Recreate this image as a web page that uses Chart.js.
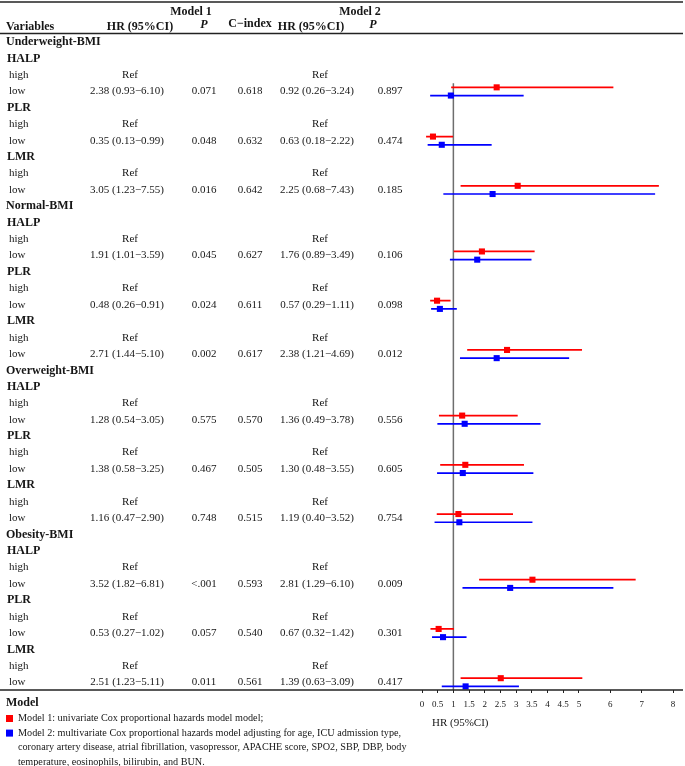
<!DOCTYPE html>
<html>
<head>
<meta charset="utf-8">
<script src="https://cdn.jsdelivr.net/npm/chart.js@4"></script>
<style>
  html, body { margin: 0; padding: 0; background: #fff; }
  .chart-container { position: relative; width: 685px; height: 766px; }
</style>
</head>
<body>
<div class="chart-container"><canvas id="forest"></canvas></div>
<script>
// ===== DATA =====
const groups = ['Underweight-BMI', 'Normal-BMI', 'Overweight-BMI', 'Obesity-BMI'];
const markers = ['HALP', 'PLR', 'LMR'];
const levels = ['high', 'low'];

// one entry per group x marker (low vs high)
const hr1 = [2.38, 0.35, 3.05, 1.91, 0.48, 2.71, 1.28, 1.38, 1.16, 3.52, 0.53, 2.51];
const lo1 = [0.93, 0.13, 1.23, 1.01, 0.26, 1.44, 0.54, 0.58, 0.47, 1.82, 0.27, 1.23];
const hi1 = [6.10, 0.99, 7.55, 3.59, 0.91, 5.10, 3.05, 3.25, 2.90, 6.81, 1.02, 5.11];
const p1 = ['0.071', '0.048', '0.016', '0.045', '0.024', '0.002', '0.575', '0.467', '0.748', '<.001', '0.057', '0.011'];
const cIndex = ['0.618', '0.632', '0.642', '0.627', '0.611', '0.617', '0.570', '0.505', '0.515', '0.593', '0.540', '0.561'];
const hr2 = [0.92, 0.63, 2.25, 1.76, 0.57, 2.38, 1.36, 1.30, 1.19, 2.81, 0.67, 1.39];
const lo2 = [0.26, 0.18, 0.68, 0.89, 0.29, 1.21, 0.49, 0.48, 0.40, 1.29, 0.32, 0.63];
const hi2 = [3.24, 2.22, 7.43, 3.49, 1.11, 4.69, 3.78, 3.55, 3.52, 6.10, 1.42, 3.09];
const p2 = ['0.897', '0.474', '0.185', '0.106', '0.098', '0.012', '0.556', '0.605', '0.754', '0.009', '0.301', '0.417'];

const xTicks = [0, 0.5, 1, 1.5, 2, 2.5, 3, 3.5, 4, 4.5, 5, 6, 7, 8];

const legendLines = [
  ['Model 1: univariate Cox proportional hazards model model;'],
  ['Model 2: multivariate Cox proportional hazards model adjusting for age, ICU admission type,',
   'coronary artery disease, atrial fibrillation, vasopressor, APACHE score, SPO2, SBP, DBP, body',
   'temperature, eosinophils, bilirubin, and BUN.']
];

// ===== STYLE =====
const redColor = '#ff0000';
const blueColor = '#0000ff';
const refColor = '#6e6e6e';
const inkColor = '#161616';
const serif = "'Liberation Serif', 'Times New Roman', serif";

// row index on the y scale (0 = first group title)
const groupRow = g => g * 10;
const markerRow = (g, m) => g * 10 + 1 + m * 3;
const lowRow = i => markerRow(Math.floor(i / 3), i % 3) + 2;

// lo, estimate, hi, gap for every comparison
function ciPoints(hr, lo, hi, shift) {
  const pts = [];
  hr.forEach((v, i) => {
    const y = lowRow(i) + shift;
    pts.push({ x: lo[i], y }, { x: v, y }, { x: hi[i], y }, { x: null, y: null });
  });
  return pts;
}

const fmtCI = (hr, lo, hi, i) =>
  hr[i].toFixed(2) + ' (' + lo[i].toFixed(2) + '\u2212' + hi[i].toFixed(2) + ')';

// ===== TABLE + LEGEND PLUGIN =====
const tablePlugin = {
  id: 'table',
  afterDraw(chart) {
    const ctx = chart.ctx;
    const ys = chart.scales.y;
    const W = chart.width;
    ctx.save();

    // horizontal rules
    ctx.strokeStyle = '#222';
    ctx.lineWidth = 1.5;
    [2, 33.5, 690].forEach(yy => {
      ctx.beginPath();
      ctx.moveTo(0, yy);
      ctx.lineTo(W - 2, yy);
      ctx.stroke();
    });

    ctx.fillStyle = inkColor;
    ctx.textBaseline = 'middle';
    const text = (s, x, y, align, font) => {
      ctx.font = font;
      ctx.textAlign = align;
      ctx.fillText(s, x, y);
    };
    const bold = 'bold 12px ' + serif;
    const body = '11px ' + serif;

    // header
    text('Model 1', 191, 12, 'center', bold);
    text('Model 2', 360, 12, 'center', bold);
    text('Variables', 6, 27, 'left', bold);
    text('HR (95%CI)', 140, 27, 'center', bold);
    text('P', 204, 25, 'center', 'italic bold 12px ' + serif);
    text('C\u2212index', 250, 24, 'center', bold);
    text('HR (95%CI)', 311, 27, 'center', bold);
    text('P', 373, 25, 'center', 'italic bold 12px ' + serif);

    // body
    groups.forEach((g, gi) => {
      text(g, 6, ys.getPixelForValue(groupRow(gi)), 'left', bold);
      markers.forEach((m, mi) => {
        const i = gi * 3 + mi;
        const r = markerRow(gi, mi);
        text(m, 7, ys.getPixelForValue(r), 'left', bold);
        const yh = ys.getPixelForValue(r + 1);
        const yl = ys.getPixelForValue(r + 2);
        text(levels[0], 9, yh, 'left', body);
        text(levels[1], 9, yl, 'left', body);
        text('Ref', 130, yh, 'center', body);
        text('Ref', 320, yh, 'center', body);
        text(fmtCI(hr1, lo1, hi1, i), 127, yl, 'center', body);
        text(p1[i], 204, yl, 'center', body);
        text(cIndex[i], 250, yl, 'center', body);
        text(fmtCI(hr2, lo2, hi2, i), 317, yl, 'center', body);
        text(p2[i], 390, yl, 'center', body);
      });
    });

    // axis title
    text('HR (95%CI)', 432, 723, 'left', body);

    // legend
    text('Model', 6, 703, 'left', bold);
    const small = '10.2px ' + serif;
    const swatch = [redColor, blueColor];
    let ly = 718.5;
    legendLines.forEach((lines, k) => {
      ctx.fillStyle = swatch[k];
      ctx.fillRect(6, ly - 3.5, 7, 7);
      ctx.fillStyle = inkColor;
      lines.forEach(line => {
        text(line, 18, ly, 'left', small);
        ly += 14.6;
      });
    });

    ctx.restore();
  }
};

// ===== CHART =====
new Chart(document.getElementById('forest'), {
  type: 'scatter',
  data: {
    datasets: [
      {
        label: 'Model 1',
        data: ciPoints(hr1, lo1, hi1, -0.25),
        showLine: true,
        borderColor: redColor,
        backgroundColor: redColor,
        borderWidth: 1.7,
        pointStyle: 'rect',
        pointRadius: c => (c.dataIndex % 4 === 1 ? 4.3 : 0),
        pointBorderWidth: 0,
        order: 1
      },
      {
        label: 'Model 2',
        data: ciPoints(hr2, lo2, hi2, 0.25),
        showLine: true,
        borderColor: blueColor,
        backgroundColor: blueColor,
        borderWidth: 1.7,
        pointStyle: 'rect',
        pointRadius: c => (c.dataIndex % 4 === 1 ? 4.3 : 0),
        pointBorderWidth: 0,
        order: 2
      },
      {
        label: 'HR = 1',
        data: [{ x: 1, y: 2.5 }, { x: 1, y: 39.5 }],
        showLine: true,
        borderColor: refColor,
        borderWidth: 1.5,
        pointRadius: 0,
        order: 3
      }
    ]
  },
  options: {
    responsive: true,
    maintainAspectRatio: false,
    animation: false,
    layout: { padding: { left: 422, right: 12, top: 34, bottom: 0 } },
    plugins: {
      legend: { display: false },
      tooltip: { enabled: false }
    },
    scales: {
      x: {
        type: 'linear',
        min: 0,
        max: 8,
        afterBuildTicks: s => { s.ticks = xTicks.map(v => ({ value: v })); },
        afterFit: s => { s.height = 76; },
        grid: { drawOnChartArea: false, tickLength: 3, color: '#222' },
        border: { display: false },
        ticks: {
          autoSkip: false,
          maxRotation: 0,
          padding: 6,
          color: inkColor,
          font: { family: serif, size: 9 },
          callback: v => String(v)
        }
      },
      y: {
        type: 'linear',
        display: false,
        reverse: true,
        min: -0.5,
        max: 39.47
      }
    }
  },
  plugins: [tablePlugin]
});
</script>
</body>
</html>
